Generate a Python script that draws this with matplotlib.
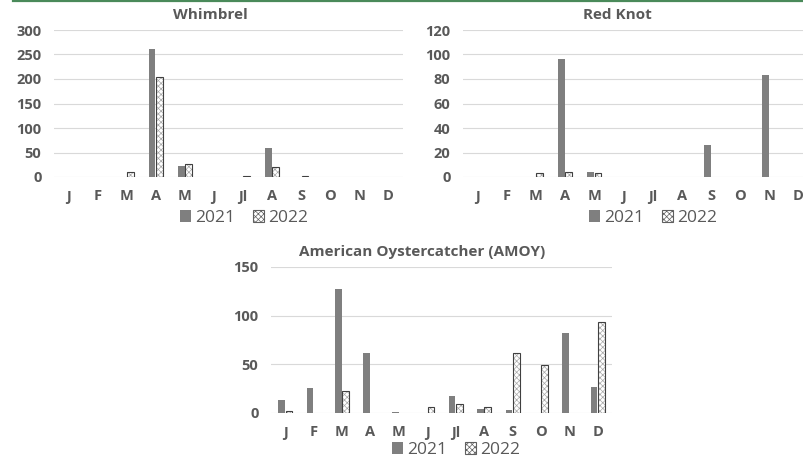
import matplotlib
matplotlib.use("Agg")
import matplotlib.pyplot as plt
import matplotlib.patches as mpatches
from matplotlib.lines import Line2D
import numpy as np

months = ["J", "F", "M", "A", "M", "J", "Jl", "A", "S", "O", "N", "D"]
series_names = ["2021", "2022"]

whimbrel_2021 = [0, 0, 1, 261, 22, 0, 0, 59, 1, 0, 0, 0]
whimbrel_2022 = [0, 0, 10, 205, 27, 0, 2, 21, 2, 0, 0, 0]
whimbrel_ticks = [0, 50, 100, 150, 200, 250, 300]

redknot_2021 = [0, 0, 0, 96, 4, 0, 0, 0, 26, 0, 83, 0]
redknot_2022 = [0, 0, 3, 4, 3, 0, 0, 0, 0, 0, 0, 0]
redknot_ticks = [0, 20, 40, 60, 80, 100, 120]

amoy_2021 = [13, 26, 127, 62, 1, 0, 17, 4, 3, 0, 82, 27]
amoy_2022 = [2, 0, 23, 0, 0, 6, 9, 6, 62, 49, 0, 94]
amoy_ticks = [0, 50, 100, 150]

titles = ["Whimbrel", "Red Knot", "American Oystercatcher (AMOY)"]

plt.rcParams['font.family'] = ['Open Sans', 'DejaVu Sans']
plt.rcParams['hatch.linewidth'] = 0.5

W, H = 804, 468
fig = plt.figure(figsize=(W / 100, H / 100), dpi=100)

TXT = "#595959"
C21 = "#7f7f7f"
GRID = "#d9d9d9"
HATCH = "xxxxxx"

def px_axes(x0, x1, ytop, ybot):
    return fig.add_axes([x0 / W, 1 - ybot / H, (x1 - x0) / W, (ybot - ytop) / H])

def draw(ax, v21, v22, ticks, title, title_xy, legend_xy):
    x = np.arange(len(months))
    bw = 0.235
    off = 0.13
    ax.bar(x - off, v21, bw, color=C21, edgecolor="none", zorder=3)
    ax.bar(x + off, v22, bw, color="white", edgecolor="#a8a8a8", hatch=HATCH,
           linewidth=0, zorder=3)
    edges = ["#404040" if v > 0 else "none" for v in v22]
    ax.bar(x + off, v22, bw, color="none", edgecolor=edges, linewidth=0.8, zorder=4)
    ax.set_xlim(-0.5, len(months) - 0.5)
    ax.set_ylim(ticks[0], ticks[-1])
    ax.set_yticks(ticks)
    ax.set_xticks(x)
    ax.set_xticklabels(months)
    for s in ax.spines.values():
        s.set_visible(False)
    ax.grid(axis="y", color=GRID, linewidth=0.8, zorder=0)
    ax.tick_params(length=0, colors=TXT, labelsize=10.5)
    ax.tick_params(axis="x", pad=9)
    ax.tick_params(axis="y", pad=9)
    for lbl in ax.get_xticklabels() + ax.get_yticklabels():
        lbl.set_fontweight("bold")
        lbl.set_color(TXT)
    fig.text(title_xy[0] / W, 1 - title_xy[1] / H, title, ha="center", va="center",
             fontsize=11, fontweight="bold", color=TXT)
    h1 = mpatches.Patch(facecolor=C21, edgecolor="none", label=series_names[0])
    h2 = mpatches.Patch(facecolor="white", edgecolor="#606060", hatch=HATCH,
                        linewidth=0.8, label=series_names[1])
    fig.legend(handles=[h1, h2], loc="center",
               bbox_to_anchor=(legend_xy[0] / W, 1 - legend_xy[1] / H),
               ncol=2, frameon=False, fontsize=12.5, handlelength=0.65,
               handleheight=0.65, handletextpad=0.25, columnspacing=1.0,
               labelcolor=TXT, borderpad=0)

ax1 = px_axes(54, 403, 30, 177)
draw(ax1, whimbrel_2021, whimbrel_2022, whimbrel_ticks, titles[0], (210, 15), (244, 218))

ax2 = px_axes(463, 813, 30, 177)
draw(ax2, redknot_2021, redknot_2022, redknot_ticks, titles[1], (617, 15), (653, 218))

ax3 = px_axes(271, 612, 267, 413)
draw(ax3, amoy_2021, amoy_2022, amoy_ticks, titles[2], (422, 252), (456, 450))

fig.add_artist(Line2D([13 / W, 1.0], [1 - 1.2 / H, 1 - 1.2 / H], color="#4a8a5a",
                      linewidth=1.6))

fig.savefig("out.png", dpi=100)
